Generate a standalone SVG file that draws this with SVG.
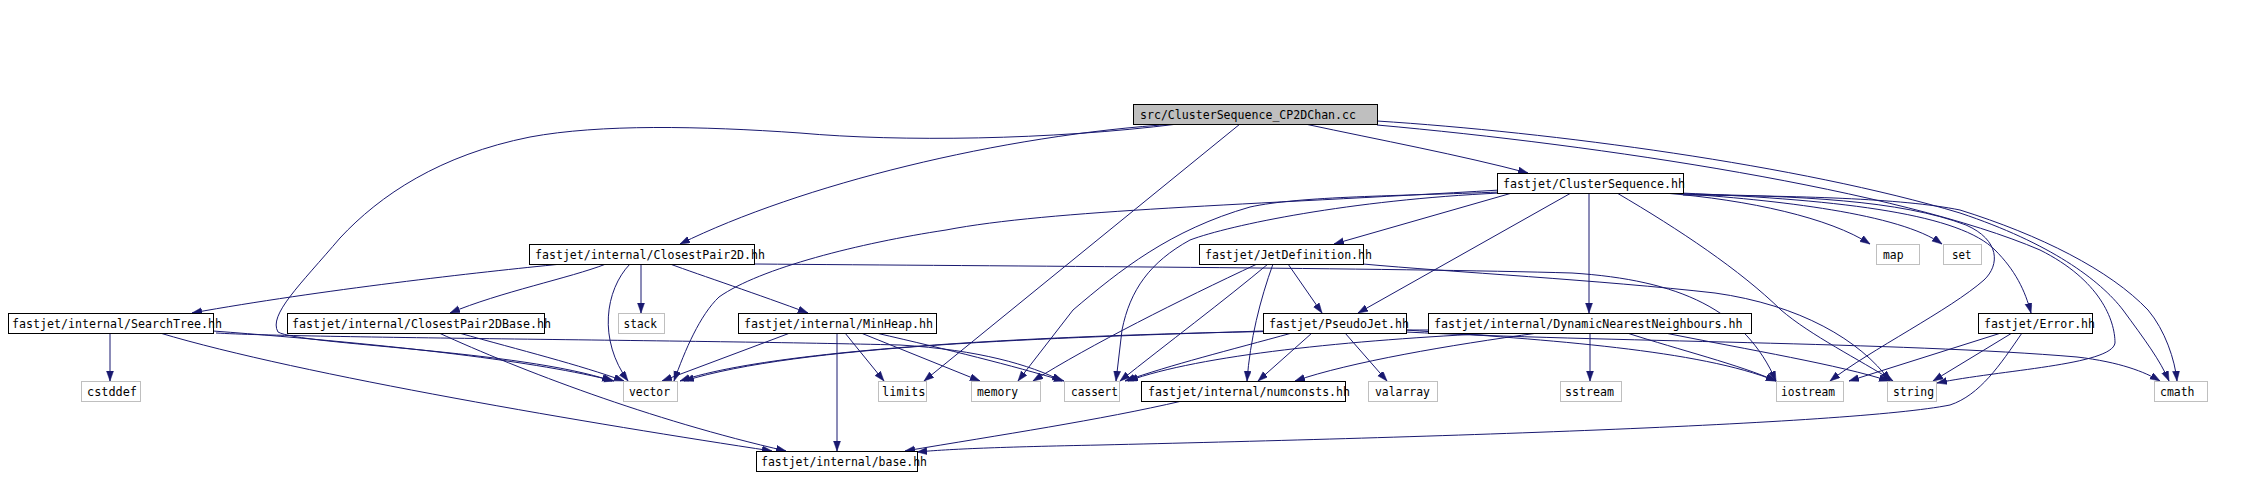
<svg xmlns="http://www.w3.org/2000/svg" width="2249" height="488" viewBox="0 0 2249 488">
<style>
.n rect{fill:#fff;stroke:#000;stroke-width:1}
.s rect{fill:#fff;stroke:#bfbfbf;stroke-width:1}
.r rect{fill:#bfbfbf;stroke:#000;stroke-width:1}
text{font-family:"DejaVu Sans Mono","Liberation Mono",monospace;font-size:13px;fill:#000}
#edges path{fill:none;stroke:#191970;stroke-width:1;marker-end:url(#ah)}
</style>
<defs>
<marker id="ah" markerUnits="userSpaceOnUse" markerWidth="11" markerHeight="8" refX="10" refY="3.5" orient="auto">
<path d="M0,0 L10,3.5 L0,7 z" fill="#191970" stroke="#191970" stroke-width="0.5"/>
</marker>
</defs>
<rect width="2249" height="488" fill="#fff"/>
<g id="edges">
<!-- root -->
<path d="M1305,124 C1380,140 1460,155 1528,173"/>
<path d="M1176,124 C1000,135 800,185 680,244"/>
<path d="M1240,124 L924,381"/>
<path d="M1178,124 C1050,140 900,142 800,133 C700,126 600,124 530,137 C440,155 380,195 340,238 C300,285 268,315 278,332 C300,345 520,350 612,381"/>
<path d="M1377,121 C1550,132 1800,165 1960,213 C2050,243 2100,280 2123,310 C2145,340 2160,360 2169,381"/>
<path d="M1377,125 C1600,145 1900,190 2040,250 C2100,280 2115,320 2115,343 C2112,365 2000,370 1937,383"/>
<!-- ClusterSequence -->
<path d="M1512,193 L1334,244"/>
<path d="M1571,193 L1358,313"/>
<path d="M1589,193 L1589,313"/>
<path d="M1664,193 C1750,200 1830,218 1870,244"/>
<path d="M1672,193 C1780,200 1900,214 1942,244"/>
<path d="M1680,193 C1850,200 1960,215 1995,250 C2015,270 2025,290 2031,313"/>
<path d="M1681,194 C1800,196 1900,200 1966,225 C2000,240 2000,265 1984,280 C1950,310 1870,350 1830,381"/>
<path d="M1617,193 C1680,230 1740,270 1781,310 C1810,335 1860,360 1893,381"/>
<path d="M1683,195 C1800,196 1900,198 1960,210 C2040,235 2110,270 2148,310 C2165,330 2175,360 2177,381"/>
<path d="M1500,190 C1250,205 1050,210 946,230 C860,243 760,268 719,297 C700,315 685,350 674,381"/>
<path d="M1500,193 C1350,200 1230,225 1190,240 C1150,262 1130,290 1122,330 L1116,381"/>
<path d="M1500,192 C1400,196 1300,196 1250,207 C1170,230 1120,270 1073,310 L1018,381"/>
<!-- ClosestPair2D -->
<path d="M562,264 C480,272 320,290 192,313"/>
<path d="M606,264 C570,278 500,292 450,313"/>
<path d="M641,264 L641,313"/>
<path d="M670,264 C700,275 760,295 808,313"/>
<path d="M630,264 C605,290 598,340 628,381"/>
<path d="M754,264 C1000,266 1400,268 1572,273 C1680,280 1745,310 1776,381"/>
<!-- JetDefinition -->
<path d="M1257,264 C1180,300 1090,345 1033,381"/>
<path d="M1268,264 C1225,300 1165,345 1120,381"/>
<path d="M1273,264 C1260,300 1250,340 1247,381"/>
<path d="M1288,264 L1322,313"/>
<path d="M1363,264 C1450,272 1600,280 1715,293 C1800,305 1860,340 1890,381"/>
<!-- SearchTree -->
<path d="M110,333 L110,381"/>
<path d="M213,331 C400,345 540,362 614,381"/>
<path d="M216,333 C300,338 700,340 900,345 C980,350 1030,365 1062,381"/>
<path d="M160,333 C300,375 600,425 772,451"/>
<!-- ClosestPair2DBase -->
<path d="M459,333 C520,350 580,365 624,381"/>
<path d="M439,333 C520,370 650,420 786,451"/>
<!-- MinHeap -->
<path d="M837,333 L837,451"/>
<path d="M845,333 L884,381"/>
<path d="M861,333 L980,381"/>
<path d="M876,333 C950,350 1010,365 1064,381"/>
<path d="M790,333 L662,381"/>
<!-- PseudoJet -->
<path d="M1345,333 L1387,381"/>
<path d="M1312,333 L1258,381"/>
<path d="M1292,333 C1230,350 1170,365 1125,381"/>
<path d="M1263,331 C1050,338 800,345 684,381"/>
<path d="M1406,332 C1600,342 1900,342 2077,357 C2120,362 2145,372 2160,381"/>
<path d="M1406,330 C1550,340 1700,350 1776,381"/>
<!-- DynamicNearestNeighbours -->
<path d="M1590,333 L1590,381"/>
<path d="M1627,333 C1680,350 1740,365 1776,381"/>
<path d="M1665,333 C1750,350 1840,365 1889,381"/>
<path d="M1538,333 C1450,345 1350,362 1295,381"/>
<path d="M1500,333 C1350,340 1200,355 1128,381"/>
<path d="M1430,330 C1200,330 800,340 680,381"/>
<!-- Error -->
<path d="M2001,333 L1849,381"/>
<path d="M2012,333 L1933,381"/>
<path d="M2022,333 C2000,365 1980,395 1950,405 C1850,425 1400,438 1100,445 C1000,447 950,449 917,452"/>
<!-- numconsts -->
<path d="M1182,401 C1100,420 1000,435 905,451"/>
</g>
<g id="n_root" class="r"><rect x="1133.5" y="104.5" width="244" height="20"/><text x="1140" y="118.5" textLength="216" lengthAdjust="spacingAndGlyphs">src/ClusterSequence_CP2DChan.cc</text></g>
<g id="n_cs" class="n"><rect x="1497.5" y="173.5" width="186" height="20"/><text x="1503" y="188" textLength="182" lengthAdjust="spacingAndGlyphs">fastjet/ClusterSequence.hh</text></g>
<g id="n_cp2d" class="n"><rect x="529.5" y="244.5" width="225" height="20"/><text x="535" y="259" textLength="230" lengthAdjust="spacingAndGlyphs">fastjet/internal/ClosestPair2D.hh</text></g>
<g id="n_jd" class="n"><rect x="1199.5" y="244.5" width="164" height="20"/><text x="1205" y="259" textLength="167" lengthAdjust="spacingAndGlyphs">fastjet/JetDefinition.hh</text></g>
<g id="n_map" class="s"><rect x="1876.5" y="244.5" width="43" height="20"/><text x="1883" y="259" textLength="20.5" lengthAdjust="spacingAndGlyphs">map</text></g>
<g id="n_set" class="s"><rect x="1943.5" y="244.5" width="38" height="20"/><text x="1952" y="259" textLength="19.5" lengthAdjust="spacingAndGlyphs">set</text></g>
<g id="n_st" class="n"><rect x="8.5" y="313.5" width="205" height="20"/><text x="12" y="328" textLength="210" lengthAdjust="spacingAndGlyphs">fastjet/internal/SearchTree.hh</text></g>
<g id="n_cpb" class="n"><rect x="287.5" y="313.5" width="257" height="20"/><text x="292" y="328" textLength="259" lengthAdjust="spacingAndGlyphs">fastjet/internal/ClosestPair2DBase.hh</text></g>
<g id="n_stack" class="s"><rect x="618.5" y="313.5" width="46" height="20"/><text x="623.5" y="328" textLength="33.5" lengthAdjust="spacingAndGlyphs">stack</text></g>
<g id="n_mh" class="n"><rect x="738.5" y="313.5" width="198" height="20"/><text x="744" y="328" textLength="189" lengthAdjust="spacingAndGlyphs">fastjet/internal/MinHeap.hh</text></g>
<g id="n_pj" class="n"><rect x="1263.5" y="313.5" width="143" height="20"/><text x="1269" y="328" textLength="140" lengthAdjust="spacingAndGlyphs">fastjet/PseudoJet.hh</text></g>
<g id="n_dnn" class="n"><rect x="1428.5" y="313.5" width="323" height="20"/><text x="1434" y="328" textLength="308.6" lengthAdjust="spacingAndGlyphs">fastjet/internal/DynamicNearestNeighbours.hh</text></g>
<g id="n_err" class="n"><rect x="1978.5" y="313.5" width="114" height="20"/><text x="1984" y="328" textLength="111" lengthAdjust="spacingAndGlyphs">fastjet/Error.hh</text></g>
<g id="n_cstddef" class="s"><rect x="81.5" y="381.5" width="59" height="20"/><text x="87" y="396" textLength="50" lengthAdjust="spacingAndGlyphs">cstddef</text></g>
<g id="n_vector" class="s"><rect x="623.5" y="381.5" width="54" height="20"/><text x="629" y="396" textLength="41" lengthAdjust="spacingAndGlyphs">vector</text></g>
<g id="n_limits" class="s"><rect x="878.5" y="381.5" width="48" height="20"/><text x="882" y="396" textLength="43.5" lengthAdjust="spacingAndGlyphs">limits</text></g>
<g id="n_memory" class="s"><rect x="971.5" y="381.5" width="69" height="20"/><text x="977" y="396" textLength="41" lengthAdjust="spacingAndGlyphs">memory</text></g>
<g id="n_cassert" class="s"><rect x="1064.5" y="381.5" width="55" height="20"/><text x="1071" y="396" textLength="47" lengthAdjust="spacingAndGlyphs">cassert</text></g>
<g id="n_numconsts" class="n"><rect x="1141.5" y="381.5" width="204" height="20"/><text x="1148" y="396" textLength="202" lengthAdjust="spacingAndGlyphs">fastjet/internal/numconsts.hh</text></g>
<g id="n_valarray" class="s"><rect x="1368.5" y="381.5" width="69" height="20"/><text x="1375" y="396" textLength="55" lengthAdjust="spacingAndGlyphs">valarray</text></g>
<g id="n_sstream" class="s"><rect x="1560.5" y="381.5" width="61" height="20"/><text x="1565" y="396" textLength="49" lengthAdjust="spacingAndGlyphs">sstream</text></g>
<g id="n_iostream" class="s"><rect x="1776.5" y="381.5" width="67" height="20"/><text x="1781" y="396" textLength="54" lengthAdjust="spacingAndGlyphs">iostream</text></g>
<g id="n_string" class="s"><rect x="1887.5" y="381.5" width="49" height="20"/><text x="1893" y="396" textLength="41" lengthAdjust="spacingAndGlyphs">string</text></g>
<g id="n_cmath" class="s"><rect x="2154.5" y="381.5" width="53" height="20"/><text x="2160" y="396" textLength="34.5" lengthAdjust="spacingAndGlyphs">cmath</text></g>
<g id="n_base" class="n"><rect x="756.5" y="451.5" width="161" height="20"/><text x="761" y="466" textLength="166" lengthAdjust="spacingAndGlyphs">fastjet/internal/base.hh</text></g>
</svg>
